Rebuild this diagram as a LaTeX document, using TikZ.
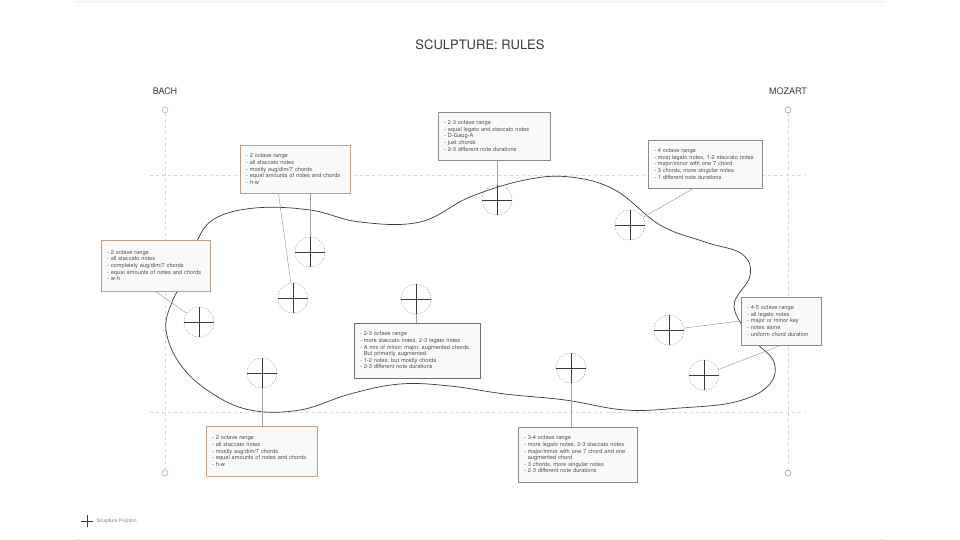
\documentclass[tikz,border=0pt]{standalone}
\usepackage{fontspec}
\setmainfont{TeX Gyre Heros}
\usetikzlibrary{positioning,calc}

\definecolor{inkgrey}{HTML}{3A3A3A}
\definecolor{notegrey}{HTML}{505050}
\definecolor{boxfill}{HTML}{FAF9F7}
\definecolor{ruletan}{HTML}{BFA08C}
\definecolor{rulegrey}{HTML}{8C8C8C}
\definecolor{ruledark}{HTML}{6E6E6E}
\definecolor{ruleblue}{HTML}{7290B8}
\definecolor{guidegrey}{HTML}{D6D6D6}
\definecolor{bachorange}{HTML}{D9A488}
\definecolor{mozartgrey}{HTML}{93A4AE}
\definecolor{mozartgreen}{HTML}{8FA89A}

\begin{document}
\begin{tikzpicture}[
    x=1pt, y=-1pt,
    rulebox/.style={rectangle, draw=#1, fill=boxfill, line width=0.6pt, align=left,
        inner xsep=6pt, inner ysep=2pt, font=\fontsize{5.7}{6.6}\selectfont, text=notegrey},
    spot/.style={circle, draw=gray!70, dash pattern=on 1.6pt off 1.4pt, line width=0.5pt,
        minimum size=30pt, inner sep=0pt},
    crossline/.style={draw=inkgrey, line width=0.8pt},
    link/.style={draw=gray!75, line width=0.5pt},
    guide/.style={draw=guidegrey, line width=0.6pt, dash pattern=on 3pt off 3pt},
    blob/.style={draw=inkgrey, line width=0.7pt},
    composer/.style={font=\fontsize{9}{10}\selectfont, text=inkgrey},
    endmark/.style={circle, draw=#1, line width=0.6pt, minimum size=6pt, inner sep=0pt, fill=white}
]
\useasboundingbox (0,0) rectangle (960,540);

% page rules
\draw[draw=gray!15, line width=0.5pt] (75,1) -- (885,1);
\draw[draw=gray!15, line width=0.5pt] (75,539) -- (885,539);

% title and composers
\node[font=\fontsize{13}{15}\selectfont, text=inkgrey] (title) at (480,45) {SCULPTURE: RULES};
\node[composer] (bach) at (165,91) {BACH};
\node[composer] (mozart) at (788,91) {MOZART};
\node[endmark=bachorange] (bachtop) at (165,110) {};
\node[endmark=bachorange] (bachbot) at (165,473) {};
\node[endmark=mozartgrey] (mozarttop) at (788,110) {};
\node[endmark=mozartgreen] (mozartbot) at (788,473) {};

% guide lines
\coordinate (gtl) at (150,175);
\coordinate (gtr) at (805,175);
\coordinate (gbl) at (150,412);
\coordinate (gbr) at (805,412);
\draw[guide] (gtl) -- (gtr);
\draw[guide] (gbl) -- (gbr);
\draw[guide] (bachtop) -- (bachbot);
\draw[guide] (mozarttop) -- (mozartbot);

% sculpture outline
\draw[blob] plot[smooth cycle, tension=0.65] coordinates {
    (196,243) (214,219) (255,208) (310,210) (360,222) (420,222) (470,197)
    (525,180) (570,177) (615,190) (660,225) (705,242) (742,254) (750,276)
    (734,306) (752,338) (774,362) (768,386) (735,402) (680,408) (625,410)
    (565,400) (505,394) (450,386) (400,384) (350,394) (300,410) (250,410)
    (210,392) (180,364) (166,330) (172,302) (184,280) (192,260)};

% sculpture positions
\foreach \name/\x/\y in {p1/199/322, p2/310/252, p3/293/298, p4/416/299, p5/497/200,
    p6/630/225, p7/262/373, p8/571/368, p9/669/330, p10/704/375} {
    \node[spot] (\name) at (\x,\y) {};
    \draw[crossline] (\name.north) -- (\name.south) (\name.west) -- (\name.east);
}

% rule boxes
\node[rulebox=rulegrey, text width=100pt, minimum height=48pt] (b1) at (494,136)
    {- 2-3 octave range\\- equal legato and staccato notes\\- D-Gaug-A\\- just chords\\- 2-3 different note durations};
\node[rulebox=ruletan, text width=98pt, minimum height=48pt] (b2) at (295,169)
    {- 2 octave range\\- all staccato notes\\- mostly aug/dim/7 chords\\- equal amounts of notes and chords\\- h-w};
\node[rulebox=ruletan, text width=97pt, minimum height=51pt] (b3) at (155.5,265.5)
    {- 2 octave range\\- all staccato notes\\- completely aug/dim/7 chords\\- equal amounts of notes and chords\\- w-h};
\node[rulebox=rulegrey, text width=102pt, minimum height=48pt] (b4) at (705,164)
    {- 4 octave range\\- most legato notes, 1-2 staccato notes\\- major/minor with one 7 chord\\- 3 chords, more singular notes\\- 1 different note durations};
\node[rulebox=ruleblue, text width=68pt, minimum height=48pt] (b5) at (781,321)
    {- 4-5 octave range\\- all legato notes\\- major or minor key\\- notes alone\\- uniform chord duration};
\node[rulebox=ruledark, text width=114pt, minimum height=55pt] (b6) at (417,350.5)
    {- 2-3 octave range\\- more staccato notes, 2-3 legato notes\\- A mix of minor, major, augmented chords.\\\phantom{-} But primarily augmented.\\- 1-2 notes, but mostly chords\\- 2-3 different note durations};
\node[rulebox=ruletan, text width=99pt, minimum height=50pt] (b7) at (261.5,451)
    {- 2 octave range\\- all staccato notes\\- mostly aug/dim/7 chords\\- equal amounts of notes and chords\\- h-w};
\node[rulebox=rulegrey, text width=107pt, minimum height=55pt] (b8) at (577.5,454.5)
    {- 3-4 octave range\\- more legato notes, 2-3 staccato notes\\- major/minor with one 7 chord and one\\\phantom{-} augmented chord\\- 3 chords, more singular notes\\- 2-3 different note durations};

% connectors
\draw[link] (b1.south -| p5) -- (p5);
\draw[link] ($(b2.south west)!0.35!(b2.south east)$) -- (p3);
\draw[link] (b2.south -| p2) -- (p2);
\draw[link] ($(b3.south west)!0.5!(b3.south east)$) -- (p1);
\draw[link] ($(b4.south west)!0.4!(b4.south east)$) -- (p6);
\draw[link] (b5.west) -- (p9);
\draw[link] ($(b5.south west)!0.5!(b5.south east)$) -- (p10);
\draw[link] (b6.north -| p4) -- (p4);
\draw[link] (b7.north -| p7) -- (p7);
\draw[link] (b8.north -| p8) -- (p8);

% legend
\coordinate (legend) at (87,521);
\draw[crossline, line width=0.6pt] ($(legend)+(-6,0)$) -- ($(legend)+(6,0)$)
    ($(legend)+(0,-6)$) -- ($(legend)+(0,6)$);
\node[font=\fontsize{5}{6}\selectfont, text=gray, right=6pt of legend] (legendtext) {Sculpture Position};
\end{tikzpicture}
\end{document}
